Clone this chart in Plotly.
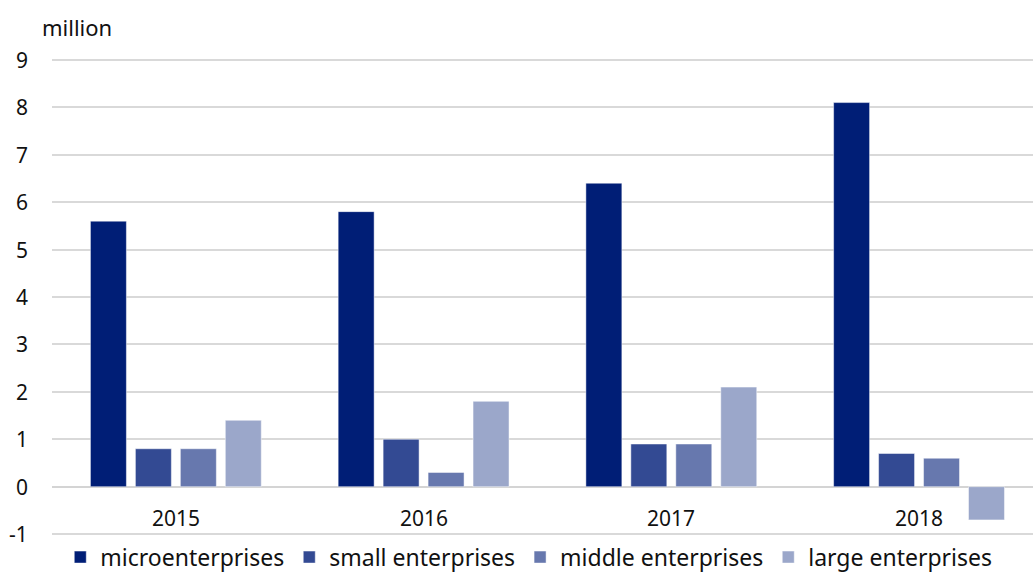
import plotly.graph_objects as go

years = ["2015", "2016", "2017", "2018"]
series_names = ["microenterprises", "small enterprises", "middle enterprises", "large enterprises"]
micro = [5.6, 5.8, 6.4, 8.1]
small = [0.8, 1.0, 0.9, 0.7]
middle = [0.8, 0.3, 0.9, 0.6]
large = [1.4, 1.8, 2.1, -0.7]
colors = ["#001E76", "#334A93", "#6778AE", "#9BA7CA"]
y_ticks = [-1, 0, 1, 2, 3, 4, 5, 6, 7, 8, 9]
y_tick_text = ["-1", "0", "1", "2", "3", "4", "5", "6", "7", "8", "9"]

FONT = "Noto Sans"
TXT = "#111111"

fig = go.Figure()
for name, vals, col in zip(series_names, [micro, small, middle, large], colors):
    fig.add_trace(go.Bar(
        x=years, y=vals, name=name,
        marker=dict(color=col, line=dict(color="rgba(255,255,255,0.6)", width=0.8)),
    ))

# category labels just below the zero line (x given as category index)
for i, yr in enumerate(years):
    fig.add_annotation(x=i, y=0, xref="x", yref="y", text=yr, showarrow=False,
                       yanchor="middle", yshift=-31,
                       font=dict(family=FONT, size=21, color=TXT))

# y tick labels, right-aligned with a gap before the grid lines
for v, t in zip(y_ticks, y_tick_text):
    fig.add_annotation(x=-22 / 981, y=v, xref="paper", yref="y", text=t, showarrow=False,
                       xanchor="right", yanchor="middle",
                       font=dict(family=FONT, size=21, color=TXT))

fig.add_annotation(x=-12 / 981, y=1 + 31 / 478, xref="paper", yref="paper",
                   text="million", showarrow=False, xanchor="left", yanchor="middle",
                   font=dict(family=FONT, size=22, color=TXT))

fig.update_layout(
    width=1033, height=572,
    margin=dict(l=52, r=0, t=58, b=36, autoexpand=False),
    plot_bgcolor="white", paper_bgcolor="white",
    barmode="group", bargap=0.274, bargroupgap=0.2,
    font=dict(family=FONT, size=21, color=TXT),
    xaxis=dict(type="category", categoryorder="array", categoryarray=years,
               range=[-0.5, 3.46], autorange=False,
               showticklabels=False, showgrid=False, zeroline=False, showline=False),
    yaxis=dict(range=[-1.04, 9.04], autorange=False, tickvals=y_ticks,
               showticklabels=False,
               showgrid=True, gridcolor="#D9D9D9", gridwidth=1.5,
               zeroline=True, zerolinecolor="#D4D4D4", zerolinewidth=2,
               showline=False, automargin=False),
    legend=dict(orientation="h", x=0.486, xanchor="center",
                yref="container", y=0.026, yanchor="middle",
                font=dict(family=FONT, size=23, color=TXT),
                bgcolor="rgba(0,0,0,0)"),
    showlegend=True,
)

fig.write_html("out.html")
